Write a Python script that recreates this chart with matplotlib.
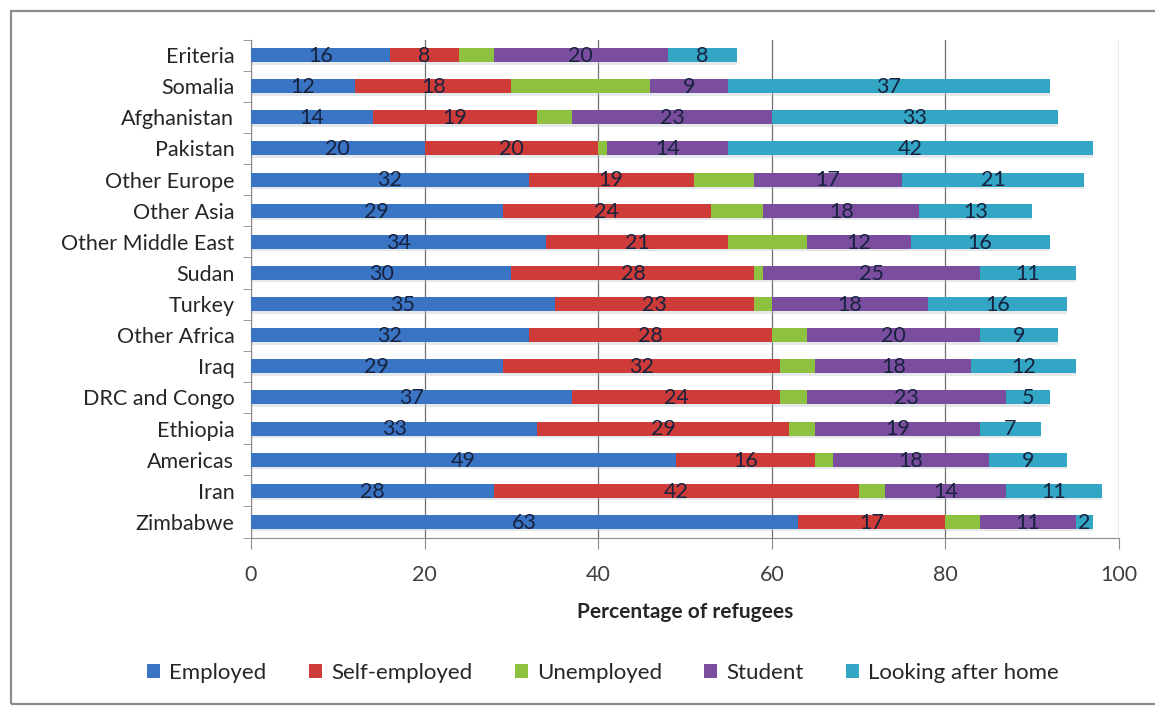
import numpy as np
import matplotlib.pyplot as plt
from matplotlib.patches import Rectangle

plt.rcParams['font.family'] = ['Lato', 'DejaVu Sans']

countries = ['Eriteria', 'Somalia', 'Afghanistan', 'Pakistan', 'Other Europe',
             'Other Asia', 'Other Middle East', 'Sudan', 'Turkey', 'Other Africa',
             'Iraq', 'DRC and Congo', 'Ethiopia', 'Americas', 'Iran', 'Zimbabwe']

employed = [16, 12, 14, 20, 32, 29, 34, 30, 35, 32, 29, 37, 33, 49, 28, 63]
self_employed = [8, 18, 19, 20, 19, 24, 21, 28, 23, 28, 32, 24, 29, 16, 42, 17]
unemployed = [4, 16, 4, 1, 7, 6, 9, 1, 2, 4, 4, 3, 3, 2, 3, 4]
student = [20, 9, 23, 14, 17, 18, 12, 25, 18, 20, 18, 23, 19, 18, 14, 11]
looking_after_home = [8, 37, 33, 42, 21, 13, 16, 11, 16, 9, 12, 5, 7, 9, 11, 2]

series = [
    ('Employed', employed, '#3a74c4', True),
    ('Self-employed', self_employed, '#cf3b38', True),
    ('Unemployed', unemployed, '#8dc13f', False),
    ('Student', student, '#7a4d9e', True),
    ('Looking after home', looking_after_home, '#33a6c6', True),
]

fig = plt.figure(figsize=(11.55, 7.06), dpi=100)
ax = fig.add_axes([251 / 1155, 1 - 537.5 / 706, (1119 - 251) / 1155, (537.5 - 39.5) / 706])

# outer chart frame
fig.patches.append(Rectangle((11 / 1155, 2 / 706), 1.2, 693 / 706, transform=fig.transFigure,
                             fill=False, edgecolor='#8c8c8c', linewidth=1.6, zorder=0))

y = np.arange(len(countries))
left = np.zeros(len(countries))
handles = []
for name, vals, color, labelled in series:
    vals = np.array(vals, dtype=float)
    # soft drop shadow under each bar
    ax.barh(y + 0.08, vals, left=left, height=0.45, color='#b9c0c8', alpha=0.35,
            linewidth=0, zorder=2)
    bars = ax.barh(y, vals, left=left, height=0.45, color=color, linewidth=0,
                   zorder=3, label=name)
    handles.append(bars)
    if labelled:
        for yi, l, v in zip(y, left, vals):
            ax.text(l + v / 2, yi + 0.03, f'{int(v)}', ha='center', va='center',
                    fontsize=15.5, color='#17233f', zorder=4)
    left += vals

ax.set_xlim(0, 100)
ax.set_ylim(len(countries) - 0.5, -0.5)
ax.set_xticks(range(0, 101, 20))
ax.set_yticks(y)
ax.set_yticklabels(countries)
ax.set_yticks(np.arange(-0.5, len(countries), 1), minor=True)
ax.tick_params(axis='y', which='major', length=0, pad=12, labelsize=15.5, labelcolor='#262626')
ax.tick_params(axis='y', which='minor', length=6, color='#8c8c8c', direction='out')
ax.tick_params(axis='x', length=8, color='#8c8c8c', pad=12, labelsize=15.5, labelcolor='#404040')

ax.grid(axis='x', color='#6f6f6f', linewidth=0.9, zorder=1)
ax.set_axisbelow(True)
for s in ['top', 'right']:
    ax.spines[s].set_visible(False)
for s in ['left', 'bottom']:
    ax.spines[s].set_color('#8c8c8c')

ax.set_xlabel('Percentage of refugees', fontsize=15, fontweight='bold', labelpad=12,
              color='#262626')

fig.legend(handles=handles, loc='center', bbox_to_anchor=(603 / 1155, 1 - 673 / 706),
           ncol=5, frameon=False, fontsize=16, handlelength=0.6, handleheight=0.6,
           handletextpad=0.4, columnspacing=1.9, labelcolor='#262626')

fig.savefig('out.png', dpi=100)
